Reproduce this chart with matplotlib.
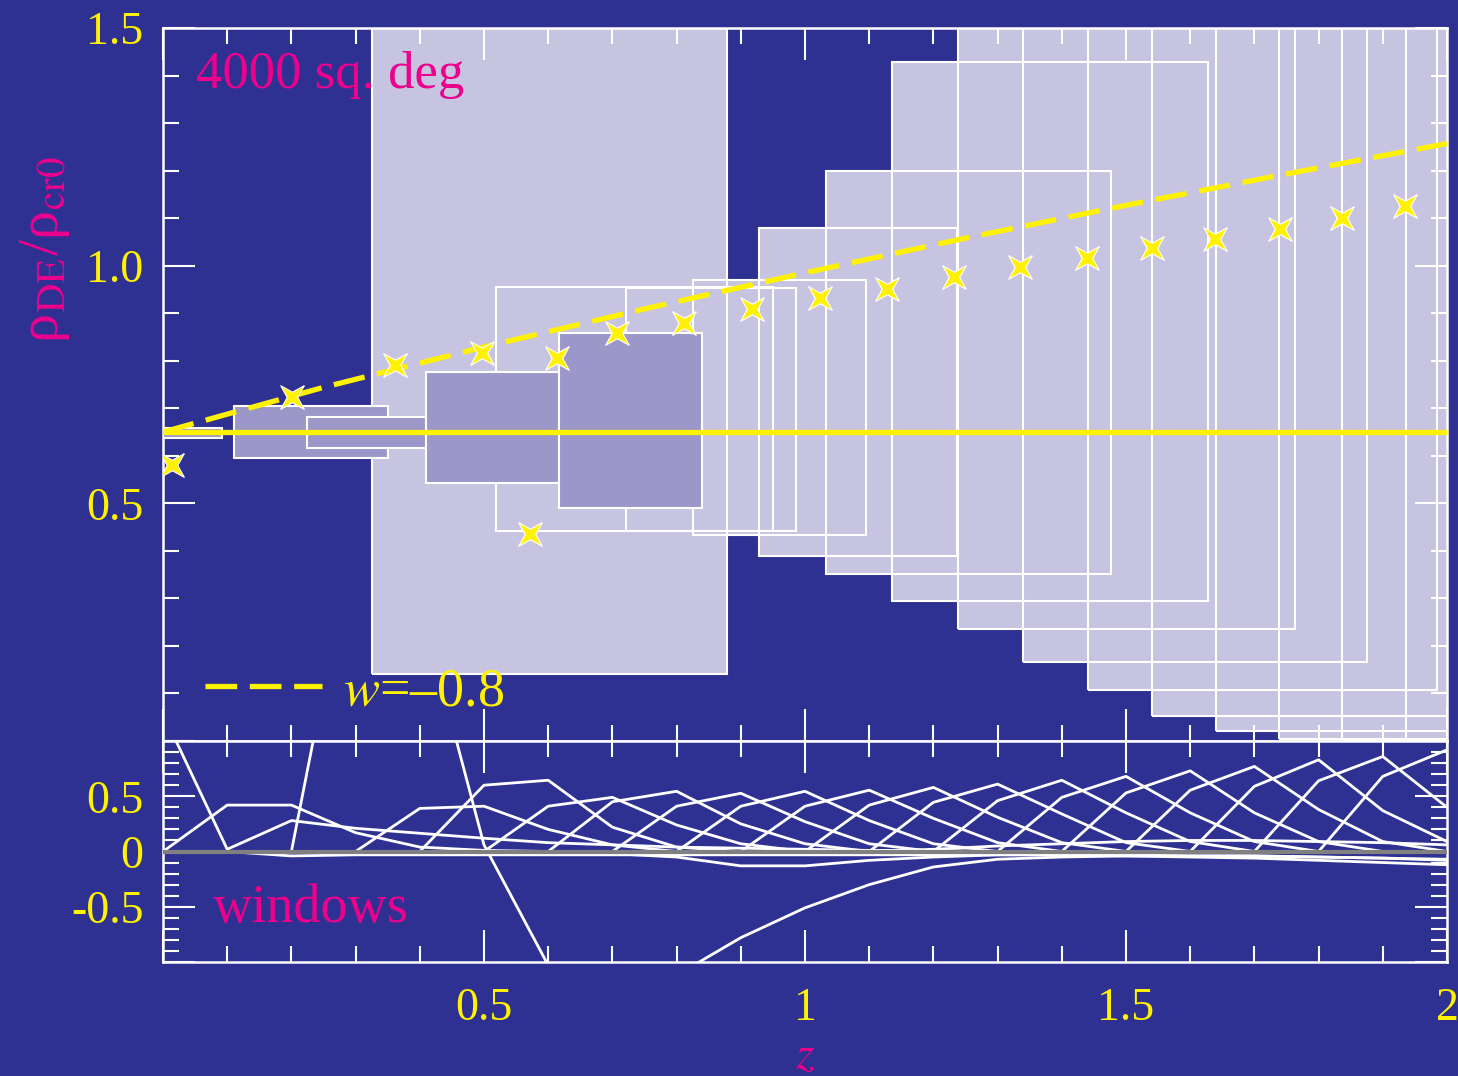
import numpy as np
import matplotlib.pyplot as plt
from matplotlib.patches import Rectangle
from matplotlib.ticker import MultipleLocator, FuncFormatter

plt.rcParams['font.family'] = ['Liberation Serif', 'DejaVu Serif']
plt.rcParams['mathtext.fontset'] = 'stix'

BG = '#2e3192'
LIGHT = '#c6c4e0'
DARK = '#9b97c8'
YEL = '#fff200'
MAG = '#ec008c'

# well constrained bins: z range and band of rho_DE/rho_cr0
tight_zlo = [0.0, 0.111, 0.224, 0.410, 0.617]
tight_zhi = [0.092, 0.350, 0.410, 0.617, 0.840]
tight_lo = [0.637, 0.595, 0.616, 0.543, 0.490]
tight_hi = [0.659, 0.705, 0.682, 0.776, 0.858]

# poorly constrained bins
wide_zlo = [0.326, 0.519, 0.721, 0.826, 0.928, 1.033, 1.136, 1.238,
            1.340, 1.441, 1.540, 1.640, 1.738, 1.836, 1.936]
wide_zhi = [0.879, 0.950, 0.986, 1.095, 1.237, 1.477, 1.628, 1.763,
            1.875, 1.984, 2.10, 2.20, 2.30, 2.40, 2.50]
wide_lo = [0.141, 0.442, 0.442, 0.433, 0.389, 0.351, 0.295, 0.236,
           0.166, 0.107, 0.053, 0.021, 0.004, -0.05, -0.10]
wide_hi = [1.60, 0.955, 0.953, 0.970, 1.079, 1.199, 1.429, 1.60,
           1.60, 1.60, 1.60, 1.60, 1.60, 1.60, 1.60]

# reconstructed values
star_z = [0.014, 0.201, 0.361, 0.497, 0.572, 0.614, 0.707, 0.812, 0.917, 1.023,
          1.128, 1.232, 1.335, 1.439, 1.540, 1.639, 1.740, 1.836, 1.934]
star_rho = [0.581, 0.724, 0.791, 0.816, 0.436, 0.806, 0.858, 0.879, 0.909, 0.932,
            0.951, 0.976, 0.997, 1.016, 1.037, 1.056, 1.077, 1.100, 1.126]

# w = -0.8 model and the fiducial constant
w08_z = [0.0, 0.25, 0.5, 0.75, 1.0, 1.25, 1.5, 1.75, 2.0]
w08_rho = [0.650, 0.744, 0.829, 0.909, 0.985, 1.058, 1.127, 1.193, 1.257]
rho_fid = 0.65

# window functions sampled on the z grid
win_z = [0.0, 0.1, 0.2, 0.3, 0.4, 0.5, 0.6, 0.7, 0.8, 0.9, 1.0,
         1.1, 1.2, 1.3, 1.4, 1.5, 1.6, 1.7, 1.8, 1.9, 2.0]
w_first = [1.25, 0.02, 0.28, 0.21, 0.165, 0.12, 0.08, 0.06, 0.04, 0.03, 0.02,
           0.01, 0.01, 0.0, 0.0, 0.0, 0.0, 0.0, 0.0, 0.0, 0.0]
w_second = [0.0, 0.42, 0.42, 0.17, 0.04, 0.01, 0.0, 0.0, 0.0, 0.0, 0.0,
            0.0, 0.0, 0.0, 0.0, 0.0, 0.0, 0.0, 0.0, 0.0, 0.0]
w_big = [0.0, 0.0, 0.0, 2.95, 2.25, 0.06, -1.03, -1.35, -1.12, -0.78, -0.51,
         -0.30, -0.14, -0.07, -0.05, -0.04, -0.04, -0.04, -0.05, -0.06, -0.08]
w_neg1 = [0.0, 0.0, -0.04, -0.03, -0.03, -0.03, -0.03, -0.03, -0.03, -0.03, -0.03,
          -0.03, -0.03, -0.03, -0.03, -0.03, -0.04, -0.04, -0.05, -0.06, -0.07]
w_neg2 = [0.0, 0.0, 0.0, 0.0, 0.0, 0.0, 0.0, -0.02, -0.05, -0.13, -0.13,
          -0.08, -0.05, -0.03, -0.03, -0.04, -0.05, -0.06, -0.08, -0.10, -0.12]
w_flat = [0.0, 0.0, 0.0, 0.0, 0.0, 0.0, 0.0, 0.0, 0.0, 0.0, 0.0,
          0.0, 0.02, 0.05, 0.07, 0.09, 0.10, 0.10, 0.09, 0.08, 0.06]

# regular windows peaking at grid index 5..20
win_peak_idx = [5, 6, 7, 8, 9, 10, 11, 12, 13, 14, 15, 16, 17, 18, 19, 20]
win_rise = [0.39, 0.60, 0.41, 0.45, 0.41, 0.41, 0.41, 0.42,
            0.445, 0.46, 0.49, 0.53, 0.555, 0.59, 0.64, 0.68]
win_peak = [0.41, 0.645, 0.49, 0.545, 0.527, 0.545, 0.555, 0.58,
            0.61, 0.645, 0.68, 0.73, 0.77, 0.83, 0.86, 0.92]
win_fall = [0.20, 0.22, 0.24, 0.25, 0.27, 0.28, 0.30, 0.31,
            0.34, 0.35, 0.35, 0.35, 0.38, 0.37, 0.40, None]
win_tail = [0.06, 0.04, 0.07, 0.07, 0.07, 0.07, 0.08, 0.08,
            0.08, 0.09, 0.09, 0.09, 0.09, 0.09, None, None]

fig = plt.figure(figsize=(14.58, 10.76), dpi=100, facecolor=BG)
W, H = 1458.0, 1076.0
ax = fig.add_axes([163 / W, 1 - 741 / H, 1284 / W, 713 / H])
ax2 = fig.add_axes([163 / W, 1 - 962 / H, 1284 / W, 221 / H])

# ---- upper panel: binned rho_DE ----
for zl, zh, lo, hi in zip(wide_zlo, wide_zhi, wide_lo, wide_hi):
    ax.add_patch(Rectangle((zl, lo), zh - zl, hi - lo, facecolor=LIGHT,
                           edgecolor='none', zorder=1))
for zl, zh, lo, hi in zip(wide_zlo, wide_zhi, wide_lo, wide_hi):
    ax.add_patch(Rectangle((zl, lo), zh - zl, hi - lo, fill=False,
                           edgecolor='white', lw=1.5, zorder=2))
for zl, zh, lo, hi in zip(tight_zlo, tight_zhi, tight_lo, tight_hi):
    ax.add_patch(Rectangle((zl, lo), zh - zl, hi - lo, facecolor=DARK,
                           edgecolor='white', lw=1.5, zorder=3))

ax.axhline(rho_fid, color=YEL, lw=3.8, zorder=4)
ax.plot(w08_z, w08_rho, color=YEL, lw=3.8, dashes=(6.0, 2.4), zorder=4,
        label='$w$=\u20130.8')

a = 0.45
star = [(1, 1), (0, a), (-1, 1), (-a, 0), (-1, -1), (0, -a), (1, -1), (a, 0), (1, 1)]
ax.plot(star_z, star_rho, ls='none', marker=star, ms=17, mfc=YEL, mec='white',
        mew=0.8, zorder=5)

ax.set_xlim(0, 2)
ax.set_ylim(0, 1.5)
ax.xaxis.set_major_locator(MultipleLocator(0.5))
ax.xaxis.set_minor_locator(MultipleLocator(0.1))
ax.yaxis.set_major_locator(MultipleLocator(0.5))
ax.yaxis.set_minor_locator(MultipleLocator(0.1))
ax.yaxis.set_major_formatter(FuncFormatter(lambda v, p: '' if v < 0.25 else '%.1f' % v))
ax.tick_params(labelbottom=False)

ax.text(0.0257, 0.916, '4000 sq. deg', transform=ax.transAxes, color=MAG,
        fontsize=38, va='baseline')
leg = ax.legend(loc='center left', bbox_to_anchor=(0.033, 0.0687), frameon=False,
                fontsize=39, handlelength=2.15, handletextpad=0.39, borderpad=0,
                borderaxespad=0, labelcolor=YEL)

# ---- lower panel: window functions ----
win_rows = [w_first, w_second, w_big, w_neg1, w_neg2, w_flat]
for i, k in enumerate(win_peak_idx):
    row = [0.0] * len(win_z)
    row[k - 1] = win_rise[i]
    row[k] = win_peak[i]
    if win_fall[i] is not None:
        row[k + 1] = win_fall[i]
    if win_tail[i] is not None:
        row[k + 2] = win_tail[i]
    win_rows.append(row)
for row in win_rows:
    ax2.plot(win_z, row, color='white', lw=2.0, zorder=2)
ax2.axhline(0, color='#808080', lw=3.0, zorder=3)

ax2.set_xlim(0, 2)
ax2.set_ylim(-1, 1)
ax2.xaxis.set_major_locator(MultipleLocator(0.5))
ax2.xaxis.set_minor_locator(MultipleLocator(0.1))
ax2.yaxis.set_major_locator(MultipleLocator(0.5))
ax2.yaxis.set_minor_locator(MultipleLocator(0.1))
ylab2 = {-0.5: '-0.5', 0.0: '0', 0.5: '0.5'}
ax2.yaxis.set_major_formatter(FuncFormatter(lambda v, p: ylab2.get(round(v, 2), '')))
ax2.xaxis.set_major_formatter(FuncFormatter(lambda v, p: '' if v < 0.25 else '%g' % v))

for a_ in (ax, ax2):
    a_.set_facecolor(BG)
    a_.tick_params(which='both', direction='in', top=True, right=True,
                   color='white', width=1.5, labelcolor=YEL, labelsize=33)
    a_.tick_params(which='major', length=23)
    a_.tick_params(which='minor', length=11.5)
    a_.tick_params(axis='y', which='both', pad=14)
    for s in a_.spines.values():
        s.set_color('white')
        s.set_linewidth(1.8)
ax2.tick_params(axis='x', which='both', pad=18)

fig.text(45 / W, 1 - 250 / H, '\u03c1$_{\\rm DE}$/\u03c1$_{\\rm cr0}$', rotation=90,
         color=MAG, fontsize=42, ha='center', va='center')
fig.text(805 / W, 1 - 1068 / H, '$z$', color=MAG, fontsize=34, ha='center',
         va='baseline')
ax2.text(0.039, 0.18, 'windows', transform=ax2.transAxes, color=MAG, fontsize=39,
         va='baseline')

fig.savefig('out.png', dpi=100, facecolor=BG)
